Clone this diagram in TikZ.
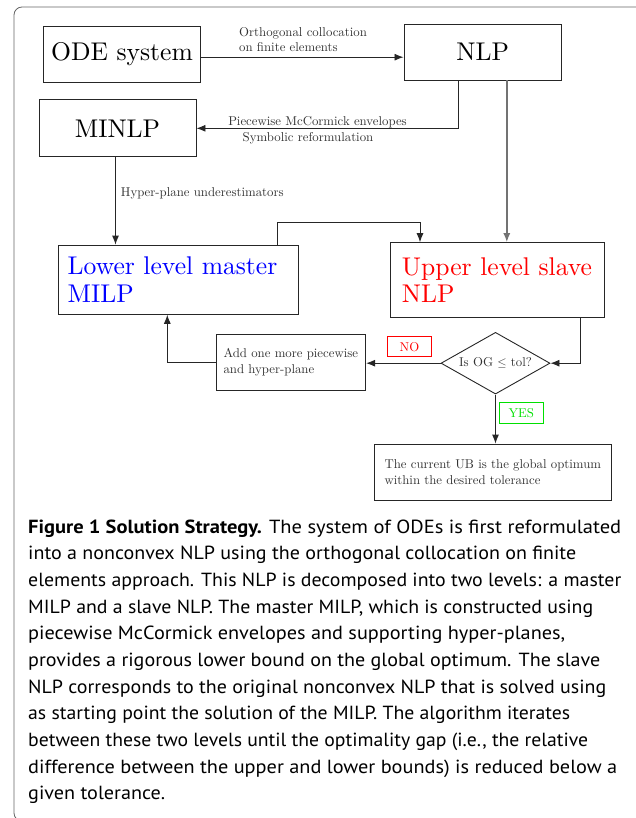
\documentclass[tikz,border=0pt]{standalone}
\usepackage{fontspec}
\usepackage{graphicx}
\newfontfamily\capfont{PT Sans}
\newfontfamily\cmten{lmroman10-regular.otf}
\newcommand\capline[2]{\resizebox{#1pt}{\height}{#2}}
\usetikzlibrary{shapes.geometric,arrows.meta}
\definecolor{frame}{HTML}{666666}
\definecolor{lab}{HTML}{333333}
\definecolor{yesgreen}{HTML}{00E000}
\begin{document}
\begin{tikzpicture}[x=1pt,y=-1pt,
  box/.style={draw=black!85,line width=0.9pt,rectangle,inner sep=0pt},
  big/.style={font=\cmten\fontsize{25.6}{27.7}\selectfont},
  sm/.style={font=\cmten\fontsize{12.8}{15.6}\selectfont},
  lbl/.style={sm,text=lab,inner sep=0pt},
  arr/.style={draw=black!85,line width=0.9pt,-{Latex[length=9pt,width=7pt]}},
  garr/.style={draw=black!55,line width=1.5pt,-{Latex[length=9pt,width=7pt]}},
  tag/.style={sm,inner sep=0pt,line width=0.8pt},
  captxt/.style={anchor=base west,inner sep=0pt,font=\capfont\fontsize{19}{20}\selectfont}]
\useasboundingbox (0,0) rectangle (636,818);
\draw[frame,line width=0.8pt,rounded corners=8pt] (14,7) rectangle (644,821);

\node[box,big,minimum width=157.4,minimum height=56.3] (ode) at (122,54.2) {ODE system};
\node[box,big,minimum width=157.7,minimum height=56] (nlp) at (482.8,52) {NLP};
\node[box,big,minimum width=157,minimum height=56.7] (minlp) at (117.5,128.3) {MINLP};
\node[box,big,text=blue,minimum height=69.3,text width=222,inner xsep=9,align=left] (llm) at (178.7,279.7) {Lower level master\\MILP};
\node[box,big,text=red,minimum width=214,minimum height=74.7,align=left] (uls) at (497,280) {Upper level slave\\NLP};
\node[box,sm,text=lab,minimum width=149.7,minimum height=56,align=left] (add) at (290.8,362.3) {Add one more piecewise\\and hyper-plane};
\node[diamond,draw=black!85,line width=0.9pt,sm,text=lab,inner sep=0pt,aspect=1.77,minimum width=109,minimum height=61.7] (dia) at (495.5,363.2) {Is OG $\leq$ tol?};
\node[box,sm,text=lab,minimum width=237.7,minimum height=56,align=left] (fin) at (492.8,472) {The current UB is the global optimum\\within the desired tolerance};
\node[tag,draw=red,text=red,minimum width=44.4,minimum height=20] (no) at (409.5,346.7) {NO};
\node[tag,draw=yesgreen,text=yesgreen,minimum width=44,minimum height=21] (yes) at (521.3,412.8) {YES};

\node[lbl,align=left,anchor=west] (l1) at (239,39.5) {Orthogonal collocation\\on finite elements};
\node[lbl] (l2) at (317.5,122) {Piecewise McCormick envelopes};
\node[lbl] (l3) at (308,138) {Symbolic reformulation};
\node[lbl,anchor=west] (l4) at (120.7,193.3) {Hyper-plane underestimators};

\draw[arr] ([yshift=-3]ode.east) -- ([yshift=-3]ode.east -| nlp.west);
\draw[arr] ([xshift=-24.1]nlp.south) |- (minlp.east);
\draw[arr] ([xshift=-2]minlp.south) -- ([xshift=-2]minlp.south |- llm.north);
\draw[garr] ([xshift=24]nlp.south) -- ([xshift=24]nlp.south |- uls.north);
\draw[arr] ([xshift=98.6]llm.north) -- ++(0,-22.3) -| ([xshift=-77]uls.north);
\draw[arr] ([xshift=83]uls.south) |- (dia.east);
\draw[arr] (dia.west) -- (dia.west -| add.east);
\draw[arr] (add.west) -| ([xshift=-11.4]llm.south);
\draw[arr] (dia.south) -- (dia.south |- fin.north);

\node[captxt] (c1) at (28,533) {\capline{593}{\textbf{Figure 1 Solution Strategy.} The system of ODEs is first reformulated}};
\node[captxt] (c2) at (28,559.7) {\capline{548}{into a nonconvex NLP using the orthogonal collocation on finite}};
\node[captxt] (c3) at (28,586.3) {\capline{593}{elements approach. This NLP is decomposed into two levels: a master}};
\node[captxt] (c4) at (28,613) {\capline{565}{MILP and a slave NLP. The master MILP, which is constructed using}};
\node[captxt] (c5) at (28,639.7) {\capline{537}{piecewise McCormick envelopes and supporting hyper-planes,}};
\node[captxt] (c6) at (28,666.3) {\capline{572}{provides a rigorous lower bound on the global optimum. The slave}};
\node[captxt] (c7) at (28,693) {\capline{578}{NLP corresponds to the original nonconvex NLP that is solved using}};
\node[captxt] (c8) at (28,719.7) {\capline{542}{as starting point the solution of the MILP. The algorithm iterates}};
\node[captxt] (c9) at (28,746.3) {\capline{560}{between these two levels until the optimality gap (i.e., the relative}};
\node[captxt] (c10) at (28,773) {\capline{589}{difference between the upper and lower bounds) is reduced below a}};
\node[captxt] (c11) at (28,799.7) {\capline{137}{given tolerance.}};
\end{tikzpicture}
\end{document}
